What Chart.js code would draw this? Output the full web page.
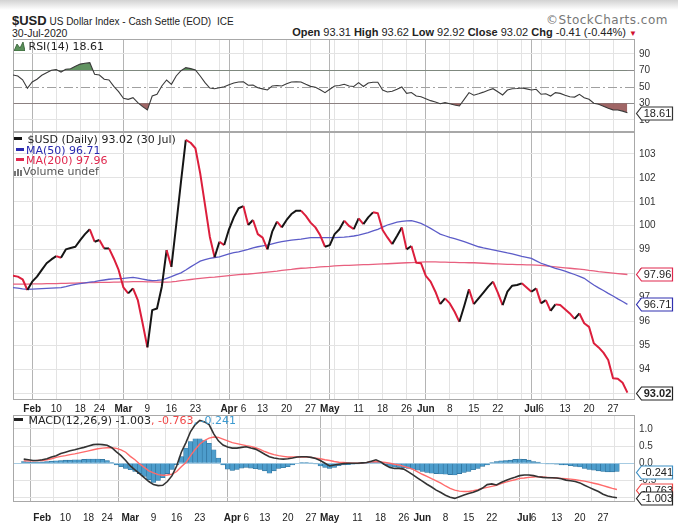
<!DOCTYPE html>
<html>
<head>
<meta charset="utf-8">
<script src="https://cdn.jsdelivr.net/npm/chart.js@4.4.1/dist/chart.umd.min.js"></script>
<style>
body { margin: 0; width: 678px; height: 531px; overflow: hidden; background: #fff; position: relative; font-family: 'Liberation Sans', Arial, sans-serif; color: #222; }
canvas { position: absolute; left: 0; }
.abs { position: absolute; white-space: nowrap; }
.leg { position: absolute; left: 14px; font: 11px 'DejaVu Sans', Verdana, sans-serif; line-height: 10.5px; white-space: nowrap; pointer-events: none; }
.leg i { display: inline-block; width: 8px; height: 3px; vertical-align: 3px; margin-right: 2px; }
#shade { position: absolute; left: 0; top: 0; width: 678px; height: 10px; background: linear-gradient(#d2d2d2, #fff); }
</style>
</head>
<body>
<div id="shade"></div>
<div class="abs" style="left:12px; top:13px; font-size:10px; line-height:16px;">
  <b style="font-size:13px;">$USD</b> US Dollar Index - Cash Settle (EOD) <span style="margin-left:3px;">ICE</span>
</div>
<div class="abs" style="right:10px; top:13px; font:12px 'DejaVu Sans', sans-serif; color:#777; letter-spacing:0.5px;">&copy;StockCharts.com</div>
<div class="abs" style="left:12px; top:27px; font-size:10.5px;">30-Jul-2020</div>
<div class="abs" style="right:41px; top:26px; font-size:11px;">
  <b>Open</b> 93.31 <b>High</b> 93.62 <b>Low</b> 92.92 <b>Close</b> 93.02 <b>Chg</b> -0.41 (-0.44%) <span style="color:#d01030; font-size:8px;">&#9660;</span>
</div>

<canvas id="ctx_rsi" width="678" height="93" style="top:39px"></canvas>
<canvas id="ctx_price" width="678" height="283" style="top:132px"></canvas>
<canvas id="ctx_macd" width="678" height="116" style="top:415px"></canvas>

<div class="leg" style="top:42px; color:#222;">
  <svg width="11" height="9" style="vertical-align:-1px"><polygon points="0,9 3,2 6,6 9,0 11,9" fill="#5a8f5a" stroke="#2f5a2f" stroke-width="0.8"/></svg> RSI(14) 18.61
</div>
<div class="leg" style="top:135px;">
  <div style="color:#222;"><i style="background:#151515"></i> $USD (Daily) 93.02 (30 Jul)</div>
  <div style="color:#2a2ab0; margin-left:2px;"><i style="background:#2a2ab0"></i>MA(50) 96.71</div>
  <div style="color:#e0284e; margin-left:2px;"><i style="background:#e0284e"></i>MA(200) 97.96</div>
  <div style="color:#555;"><svg width="9" height="8" style="vertical-align:-1px"><rect x="0" y="3" width="2" height="5" fill="#777"/><rect x="3" y="1" width="2" height="7" fill="#777"/><rect x="6" y="2" width="2" height="6" fill="#777"/></svg>Volume undef</div>
</div>
<div class="leg" style="top:416px; color:#222;">
  <i style="background:#222; width:9px;"></i> MACD(12,26,9) -1.003<span style="color:#f04848">, -0.763</span><span style="color:#3d9ad0">, -0.241</span>
</div>

<script>
// trading days, 28 Jan .. 30 Jul 2020
var dates = [
  'Jan 28', 'Jan 29', 'Jan 30', 'Jan 31',
  'Feb 3', 'Feb 4', 'Feb 5', 'Feb 6', 'Feb 7', 'Feb 10', 'Feb 11', 'Feb 12', 'Feb 13', 'Feb 14',
  'Feb 18', 'Feb 19', 'Feb 20', 'Feb 21', 'Feb 24', 'Feb 25', 'Feb 26', 'Feb 27', 'Feb 28',
  'Mar 2', 'Mar 3', 'Mar 4', 'Mar 5', 'Mar 6', 'Mar 9', 'Mar 10', 'Mar 11', 'Mar 12', 'Mar 13',
  'Mar 16', 'Mar 17', 'Mar 18', 'Mar 19', 'Mar 20', 'Mar 23', 'Mar 24', 'Mar 25', 'Mar 26', 'Mar 27',
  'Mar 30', 'Mar 31',
  'Apr 1', 'Apr 2', 'Apr 3', 'Apr 6', 'Apr 7', 'Apr 8', 'Apr 9', 'Apr 13', 'Apr 14', 'Apr 15',
  'Apr 16', 'Apr 17', 'Apr 20', 'Apr 21', 'Apr 22', 'Apr 23', 'Apr 24', 'Apr 27', 'Apr 28', 'Apr 29', 'Apr 30',
  'May 1', 'May 4', 'May 5', 'May 6', 'May 7', 'May 8', 'May 11', 'May 12', 'May 13', 'May 14', 'May 15',
  'May 18', 'May 19', 'May 20', 'May 21', 'May 22', 'May 26', 'May 27', 'May 28', 'May 29',
  'Jun 1', 'Jun 2', 'Jun 3', 'Jun 4', 'Jun 5', 'Jun 8', 'Jun 9', 'Jun 10', 'Jun 11', 'Jun 12',
  'Jun 15', 'Jun 16', 'Jun 17', 'Jun 18', 'Jun 19', 'Jun 22', 'Jun 23', 'Jun 24', 'Jun 25', 'Jun 26',
  'Jun 29', 'Jun 30',
  'Jul 1', 'Jul 2', 'Jul 6', 'Jul 7', 'Jul 8', 'Jul 9', 'Jul 10', 'Jul 13', 'Jul 14', 'Jul 15',
  'Jul 16', 'Jul 17', 'Jul 20', 'Jul 21', 'Jul 22', 'Jul 23', 'Jul 24', 'Jul 27', 'Jul 28', 'Jul 29', 'Jul 30'
];

var price = [
  97.91, 97.87, 97.76, 97.31, 97.66, 97.87, 98.15, 98.43, 98.59, 98.73,
  98.66, 99.01, 99.07, 99.12, 99.40, 99.65, 99.85, 99.33, 99.40, 99.05,
  99.05, 98.63, 98.15, 97.42, 97.17, 97.38, 96.89, 95.92, 94.91, 96.47,
  96.54, 97.45, 98.98, 98.28, 100.03, 101.84, 103.59, 103.47, 103.24, 102.19,
  100.87, 99.54, 98.68, 99.33, 99.19, 99.85, 100.35, 100.73, 100.82, 100.03,
  100.24, 99.65, 99.50, 99.01, 99.75, 100.17, 99.93, 100.24, 100.49, 100.63,
  100.63, 100.41, 100.13, 99.93, 99.60, 99.12, 99.19, 99.65, 99.85, 100.21,
  99.99, 99.86, 100.31, 100.07, 100.35, 100.56, 100.52, 99.82, 99.51, 99.23,
  99.57, 99.93, 99.01, 99.15, 98.45, 98.43, 97.90, 97.66, 97.24, 96.72,
  96.96, 96.75, 96.40, 95.98, 96.64, 97.34, 96.72, 96.96, 97.20, 97.45,
  97.66, 97.20, 96.68, 97.24, 97.49, 97.52, 97.59, 97.42, 97.24, 97.38,
  96.75, 96.89, 96.44, 96.71, 96.68, 96.51, 96.33, 96.10, 96.33, 95.92,
  95.77, 95.08, 94.91, 94.69, 94.38, 93.62, 93.60, 93.43, 93.02
];

var ma50 = [
  97.41, 97.39, 97.36, 97.34, 97.35, 97.36, 97.37, 97.38, 97.39, 97.40,
  97.41, 97.45, 97.50, 97.55, 97.58, 97.61, 97.64, 97.66, 97.70, 97.73,
  97.76, 97.78, 97.79, 97.80, 97.82, 97.84, 97.81, 97.77, 97.73, 97.70,
  97.71, 97.73, 97.80, 97.87, 97.95, 98.03, 98.15, 98.28, 98.40, 98.52,
  98.58, 98.63, 98.67, 98.70, 98.76, 98.82, 98.87, 98.91, 98.96, 99.01,
  99.07, 99.12, 99.16, 99.19, 99.24, 99.29, 99.33, 99.37, 99.40, 99.42,
  99.44, 99.47, 99.50, 99.50, 99.50, 99.50, 99.50, 99.50, 99.51, 99.52,
  99.54, 99.57, 99.61, 99.66, 99.71, 99.78, 99.85, 99.94, 100.03, 100.09,
  100.15, 100.18, 100.20, 100.21, 100.16, 100.10, 100.00, 99.89, 99.77, 99.65,
  99.58, 99.51, 99.46, 99.40, 99.33, 99.26, 99.19, 99.12, 99.07, 99.03,
  98.99, 98.95, 98.91, 98.86, 98.82, 98.77, 98.72, 98.68, 98.63, 98.53,
  98.43, 98.36, 98.29, 98.22, 98.16, 98.10, 98.03, 97.96, 97.88, 97.80,
  97.66, 97.52, 97.40, 97.29, 97.17, 97.06, 96.94, 96.83, 96.71
];

var ma200 = [
  97.56, 97.56, 97.56, 97.56, 97.57, 97.57, 97.57, 97.58, 97.58, 97.58,
  97.59, 97.59, 97.60, 97.60, 97.61, 97.61, 97.62, 97.62, 97.63, 97.63,
  97.63, 97.64, 97.64, 97.65, 97.65, 97.66, 97.66, 97.66, 97.65, 97.65,
  97.64, 97.64, 97.64, 97.65, 97.67, 97.70, 97.72, 97.75, 97.78, 97.80,
  97.82, 97.84, 97.85, 97.87, 97.89, 97.91, 97.93, 97.95, 97.97, 97.98,
  98.00, 98.02, 98.04, 98.06, 98.08, 98.10, 98.13, 98.15, 98.17, 98.20,
  98.22, 98.23, 98.25, 98.26, 98.28, 98.29, 98.30, 98.32, 98.33, 98.34,
  98.34, 98.35, 98.36, 98.37, 98.37, 98.38, 98.39, 98.40, 98.41, 98.42,
  98.43, 98.44, 98.45, 98.46, 98.47, 98.48, 98.49, 98.49, 98.49, 98.48,
  98.48, 98.47, 98.47, 98.46, 98.46, 98.45, 98.45, 98.44, 98.43, 98.42,
  98.41, 98.40, 98.39, 98.38, 98.38, 98.37, 98.37, 98.36, 98.36, 98.35,
  98.34, 98.32, 98.30, 98.28, 98.26, 98.24, 98.22, 98.20, 98.18, 98.16,
  98.13, 98.11, 98.08, 98.06, 98.04, 98.02, 98.00, 97.98, 97.96
];

var rsi = [
  64.3, 63.0, 58.5, 48.2, 55.8, 59.1, 63.9, 67.1, 70.0, 71.0,
  67.9, 71.2, 71.9, 75.0, 77.5, 78.5, 79.2, 65.2, 64.3, 59.1,
  58.2, 50.5, 44.1, 36.0, 34.8, 36.8, 30.7, 26.0, 21.9, 38.8,
  40.9, 51.0, 58.2, 53.0, 63.1, 69.5, 73.2, 72.0, 70.5, 63.1,
  55.0, 48.5, 47.7, 48.9, 50.0, 52.5, 54.5, 55.8, 56.0, 51.8,
  52.0, 48.9, 47.5, 46.1, 51.0, 51.5, 51.0, 53.8, 55.8, 56.0,
  55.8, 53.0, 50.5, 49.5, 46.5, 42.9, 47.0, 51.0, 51.5, 53.0,
  51.0, 50.3, 55.0, 50.3, 54.6, 55.5, 55.5, 46.1, 43.7, 44.5,
  47.0, 49.8, 42.1, 43.0, 38.8, 38.0, 35.6, 33.2, 31.6, 29.5,
  30.8, 29.5, 28.0, 26.7, 34.8, 42.9, 39.7, 41.5, 43.5, 45.8,
  47.7, 44.0, 40.1, 46.1, 47.7, 48.0, 48.5, 47.5, 46.1, 47.0,
  40.9, 41.5, 38.8, 42.9, 42.0, 39.7, 38.0, 37.5, 40.9, 36.8,
  34.8, 30.0, 28.8, 26.5, 24.0, 22.0, 21.8, 20.5, 18.61
];

var macd = [
  0.12, 0.10, 0.08, 0.08, 0.10, 0.13, 0.18, 0.22, 0.28, 0.32,
  0.36, 0.39, 0.43, 0.46, 0.50, 0.54, 0.55, 0.54, 0.52, 0.45,
  0.33, 0.22, 0.08, -0.08, -0.19, -0.30, -0.42, -0.53, -0.62, -0.65,
  -0.64, -0.53, -0.36, -0.08, 0.32, 0.60, 0.92, 1.12, 1.24, 1.20,
  1.12, 0.85, 0.65, 0.53, 0.47, 0.44, 0.44, 0.46, 0.48, 0.44,
  0.41, 0.34, 0.26, 0.19, 0.15, 0.13, 0.12, 0.13, 0.15, 0.18,
  0.19, 0.19, 0.17, 0.14, 0.08, 0.00, -0.08, -0.05, -0.03, -0.01,
  0.00, 0.00, 0.00, 0.01, 0.02, 0.06, 0.10, 0.04, -0.05, -0.12,
  -0.15, -0.15, -0.17, -0.25, -0.34, -0.43, -0.52, -0.61, -0.69, -0.78,
  -0.85, -0.93, -0.99, -1.02, -0.97, -0.92, -0.88, -0.84, -0.79, -0.72,
  -0.62, -0.60, -0.63, -0.56, -0.50, -0.45, -0.41, -0.36, -0.34, -0.34,
  -0.36, -0.39, -0.41, -0.42, -0.42, -0.43, -0.45, -0.49, -0.51, -0.53,
  -0.57, -0.64, -0.70, -0.76, -0.82, -0.90, -0.95, -0.98, -1.003
];

var signal = [
  0.07, 0.07, 0.07, 0.08, 0.08, 0.10, 0.13, 0.17, 0.20, 0.22,
  0.25, 0.27, 0.30, 0.33, 0.36, 0.39, 0.42, 0.44, 0.45, 0.45,
  0.43, 0.39, 0.32, 0.20, 0.10, -0.02, -0.12, -0.22, -0.28, -0.33,
  -0.35, -0.34, -0.32, -0.24, -0.10, 0.02, 0.22, 0.40, 0.56, 0.66,
  0.73, 0.76, 0.75, 0.70, 0.65, 0.60, 0.57, 0.54, 0.51, 0.49,
  0.45, 0.40, 0.34, 0.29, 0.25, 0.22, 0.20, 0.18, 0.18, 0.18,
  0.18, 0.18, 0.17, 0.15, 0.13, 0.10, 0.08, 0.05, 0.03, 0.02,
  0.01, 0.00, 0.00, 0.01, 0.02, 0.04, 0.05, 0.04, 0.02, 0.00,
  -0.03, -0.05, -0.09, -0.13, -0.18, -0.25, -0.32, -0.38, -0.45, -0.51,
  -0.58, -0.66, -0.73, -0.78, -0.81, -0.82, -0.82, -0.80, -0.77, -0.73,
  -0.70, -0.67, -0.64, -0.59, -0.55, -0.51, -0.48, -0.44, -0.43, -0.41,
  -0.40, -0.39, -0.40, -0.41, -0.42, -0.43, -0.44, -0.45, -0.46, -0.48,
  -0.50, -0.52, -0.55, -0.58, -0.61, -0.65, -0.69, -0.73, -0.763
];

var hist = [
  0.05, 0.04, 0.03, 0.03, 0.04, 0.05, 0.06, 0.07, 0.08, 0.09,
  0.09, 0.10, 0.10, 0.11, 0.12, 0.12, 0.12, 0.11, 0.08, 0.02,
  -0.05, -0.10, -0.15, -0.19, -0.24, -0.30, -0.38, -0.48, -0.56, -0.50,
  -0.42, -0.30, -0.18, -0.05, 0.19, 0.44, 0.63, 0.71, 0.71, 0.66,
  0.58, 0.39, 0.15, -0.05, -0.17, -0.21, -0.18, -0.14, -0.12, -0.14,
  -0.16, -0.18, -0.22, -0.29, -0.22, -0.15, -0.13, -0.10, -0.05, 0.00,
  0.02, 0.02, 0.01, -0.02, -0.08, -0.12, -0.15, -0.12, -0.07, -0.05,
  -0.04, -0.03, -0.02, -0.01, 0.00, 0.03, 0.05, 0.03, -0.04, -0.09,
  -0.11, -0.12, -0.13, -0.15, -0.17, -0.20, -0.24, -0.27, -0.29, -0.30,
  -0.31, -0.32, -0.33, -0.34, -0.30, -0.27, -0.24, -0.19, -0.15, -0.09,
  -0.05, 0.02, 0.05, 0.07, 0.08, 0.09, 0.11, 0.12, 0.11, 0.09,
  0.05, 0.03, 0.00, -0.02, -0.02, -0.03, -0.05, -0.05, -0.07, -0.09,
  -0.11, -0.15, -0.18, -0.20, -0.22, -0.24, -0.25, -0.25, -0.241
];

// date axis: positions (index into dates), text, and which ones start a month
var tickIdx  = [4, 9, 14, 18, 23, 28, 33, 38, 43, 45, 48, 52, 57, 62, 66, 67, 72, 77, 82, 86, 91, 96, 101, 106, 108, 110, 115, 120, 125];
var tickText = ['Feb', '10', '18', '24', 'Mar', '9', '16', '23', '', 'Apr', '6', '13', '20', '27', 'May', '', '11', '18', '26', 'Jun', '8', '15', '22', '', 'Jul', '6', '13', '20', '27'];
var monthIdx = [4, 23, 45, 66, 86, 108];

var priceTicks = [93, 94, 95, 96, 97, 98, 99, 100, 101, 102, 103];
var rsiTicks = [10, 30, 50, 70, 90];
var macdTicks = [-1, -0.5, 0, 0.5, 1];

var UP = '#151515', DOWN = '#dc1e3c';
var X_MAX = 129.58;
var FONT = "'Liberation Sans', Arial, sans-serif";

function pts(arr) {
    return arr.map(function (v, i) { return {x: i, y: v}; });
}

function is_month(v) {
    return monthIdx.indexOf(v) >= 0;
}

function x_axis(show, height, pad) {
    return {
        type: 'linear', min: 0, max: X_MAX,
        afterBuildTicks: function (s) { s.ticks = tickIdx.map(function (v) { return {value: v}; }); },
        afterFit: function (s) { s.height = height; s.paddingLeft = 0; s.paddingRight = 0; },
        grid: {
            color: function (c) { return c.tick && is_month(c.tick.value) ? '#b4b4b4' : '#e3e3e3'; },
            drawTicks: false
        },
        border: {display: false},
        ticks: {
            display: show, autoSkip: false, maxRotation: 0, padding: pad, color: '#222',
            callback: function (v, i) { return tickText[i]; },
            font: function (c) {
                return {family: FONT, size: 10, weight: c.tick && is_month(c.tick.value) ? 'bold' : 'normal'};
            }
        }
    };
}

function y_axis(min, max, ticks, fmt, gridColor) {
    return {
        position: 'right', min: min, max: max,
        afterBuildTicks: function (s) { s.ticks = ticks.map(function (v) { return {value: v}; }); },
        afterFit: function (s) { s.width = 43; s.paddingTop = 0; s.paddingBottom = 0; },
        grid: {color: gridColor, drawTicks: false},
        border: {display: false},
        ticks: {padding: 4, color: '#333', font: {family: FONT, size: 10}, callback: fmt}
    };
}

var frame = {
    id: 'frame',
    beforeDatasetsDraw: function (chart) {
        var a = chart.chartArea, c = chart.ctx;
        c.save();
        c.strokeStyle = '#a8a8a8';
        c.lineWidth = 1;
        c.strokeRect(a.left + 0.5, a.top + 0.5, a.right - a.left - 1, a.bottom - a.top - 1);
        c.restore();
    }
};

// value boxes on the right axis
function make_tags(list) {
    return {
        id: 'tags',
        afterDraw: function (chart) {
            var c = chart.ctx, a = chart.chartArea, y = chart.scales.y;
            list.forEach(function (t) {
                var py = Math.round(y.getPixelForValue(t.value)) + 0.5, x0 = a.right + 1.5, w = 36, h = 13;
                c.save();
                c.beginPath();
                c.moveTo(x0, py);
                c.lineTo(x0 + 5, py - h / 2);
                c.lineTo(x0 + w, py - h / 2);
                c.lineTo(x0 + w, py + h / 2);
                c.lineTo(x0 + 5, py + h / 2);
                c.closePath();
                c.fillStyle = '#fff';
                c.fill();
                c.strokeStyle = t.color;
                c.lineWidth = 1.2;
                c.stroke();
                c.fillStyle = '#222';
                c.font = (t.bold ? 'bold ' : '') + '11px ' + FONT;
                c.textAlign = 'center';
                c.textBaseline = 'middle';
                c.fillText(t.text, x0 + 3 + w / 2, py + 0.5);
                c.restore();
            });
        }
    };
}

// dash-dot 50 line of the RSI panel
var rsi_mid = {
    id: 'rsi_mid',
    beforeDatasetsDraw: function (chart) {
        var a = chart.chartArea, c = chart.ctx, py = Math.round(chart.scales.y.getPixelForValue(50)) + 0.5;
        c.save();
        c.strokeStyle = '#a0a0a0';
        c.setLineDash([9, 3, 2, 3]);
        c.beginPath();
        c.moveTo(a.left, py);
        c.lineTo(a.right, py);
        c.stroke();
        c.restore();
    }
};

var base_opts = {
    responsive: false,
    animation: false,
    events: [],
    layout: {padding: {left: 13, right: 0, top: 0, bottom: 0}, autoPadding: false},
    plugins: {legend: {display: false}, tooltip: {enabled: false}},
    elements: {point: {radius: 0}, line: {tension: 0}}
};

function opts(scales) {
    return Object.assign({}, base_opts, {scales: scales});
}

var last = function (arr) { return arr[arr.length - 1]; };

new Chart(document.getElementById('ctx_rsi').getContext('2d'), {
    type: 'line',
    data: {
        datasets: [{
            data: pts(rsi), borderColor: '#3a3a3a', borderWidth: 1.1,
            fill: {target: {value: 70}, above: 'rgba(80,135,80,0.9)', below: 'rgba(0,0,0,0)'}
        }, {
            data: pts(rsi), borderColor: 'rgba(0,0,0,0)', borderWidth: 0,
            fill: {target: {value: 30}, above: 'rgba(0,0,0,0)', below: 'rgba(150,85,85,0.9)'}
        }]
    },
    options: opts({
        x: x_axis(false, 0, 0),
        y: y_axis(-4.8, 107.9, rsiTicks, function (v) { return v; }, function (c) {
            var v = c.tick.value;
            if (v === 30 || v === 70) return '#8a8a8a';
            if (v === 50) return 'rgba(0,0,0,0)';
            return '#e3e3e3';
        })
    }),
    plugins: [frame, rsi_mid, make_tags([{value: last(rsi), text: last(rsi).toFixed(2), color: '#333'}])]
});

new Chart(document.getElementById('ctx_price').getContext('2d'), {
    type: 'line',
    data: {
        datasets: [{
            data: pts(price), borderWidth: 2, borderJoinStyle: 'round', order: 1,
            borderColor: UP,
            segment: {borderColor: function (c) { return c.p1.parsed.y < c.p0.parsed.y ? DOWN : UP; }}
        }, {
            data: pts(ma50), borderColor: '#5c5cc8', borderWidth: 1.3, order: 2
        }, {
            data: pts(ma200), borderColor: '#e8607f', borderWidth: 1.3, order: 3
        }]
    },
    options: opts({
        x: x_axis(true, 15, 3),
        y: y_axis(92.71, 103.92, priceTicks, function (v) { return v; }, '#e3e3e3')
    }),
    plugins: [frame, make_tags([
        {value: last(ma200), text: last(ma200).toFixed(2), color: '#e0284e'},
        {value: last(ma50), text: last(ma50).toFixed(2), color: '#3030b0'},
        {value: last(price), text: last(price).toFixed(2), color: '#222', bold: true}
    ])]
});

new Chart(document.getElementById('ctx_macd').getContext('2d'), {
    type: 'line',
    data: {
        datasets: [{
            data: pts(macd), borderColor: '#333', borderWidth: 1.6, order: 1
        }, {
            data: pts(signal), borderColor: '#ff6b6b', borderWidth: 1.4, order: 2
        }, {
            type: 'bar', data: pts(hist), order: 3,
            backgroundColor: '#4d9dcc', borderColor: '#2c6e98', borderWidth: 0.6,
            barPercentage: 1, categoryPercentage: 1
        }]
    },
    options: opts({
        x: x_axis(true, 29, 10),
        y: y_axis(-1.125, 1.40, macdTicks, function (v) { return v.toFixed(1); }, function (c) {
            return c.tick.value === 0 ? '#a6cbe2' : '#e3e3e3';
        })
    }),
    plugins: [frame, make_tags([
        {value: last(hist), text: last(hist).toFixed(3), color: '#3d8fc4'},
        {value: last(signal), text: last(signal).toFixed(3), color: '#f04848'},
        {value: last(macd), text: last(macd).toFixed(3), color: '#222'}
    ])]
});
</script>
</body>
</html>
